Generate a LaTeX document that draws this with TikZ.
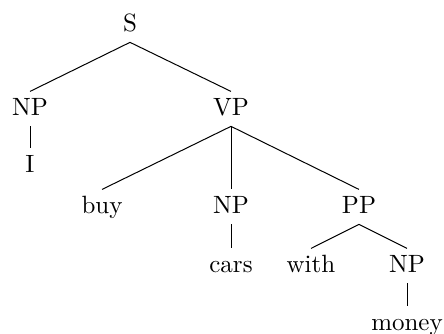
\documentclass[tikz,border=0pt]{standalone}
\usepackage{tikz}
\begin{document}
\begin{tikzpicture}[x=0.4pt,y=-0.4pt,
  cat/.style={inner sep=2.4pt,text height=6.83pt,text depth=1.94pt,anchor=base}]
\useasboundingbox (0,0) rectangle (444,333);
% categories and words
\node[cat] (S) at (130,31) {S};
\node[cat] (NPa) at (30,115) {NP};
\node[cat] (VP) at (231,115) {VP};
\node[cat] (I) at (30,172) {I};
\node[cat] (buy) at (102,213) {buy};
\node[cat] (NPb) at (231,213) {NP};
\node[cat] (PP) at (359,213) {PP};
\node[cat] (cars) at (231,272) {cars};
\node[cat] (with) at (311,272) {with};
\node[cat] (NPc) at (407,272) {NP};
\node[cat] (money) at (407,330) {money};
% branches
\draw (S.south) -- (NPa.north);
\draw (S.south) -- (VP.north);
\draw (NPa.south) -- (I.north);
\draw (VP.south) -- (buy.north);
\draw (VP.south) -- (NPb.north);
\draw (VP.south) -- (PP.north);
\draw (NPb.south) -- (cars.north);
\draw (PP.south) -- (with.north);
\draw (PP.south) -- (NPc.north);
\draw (NPc.south) -- (money.north);
\end{tikzpicture}
\end{document}
